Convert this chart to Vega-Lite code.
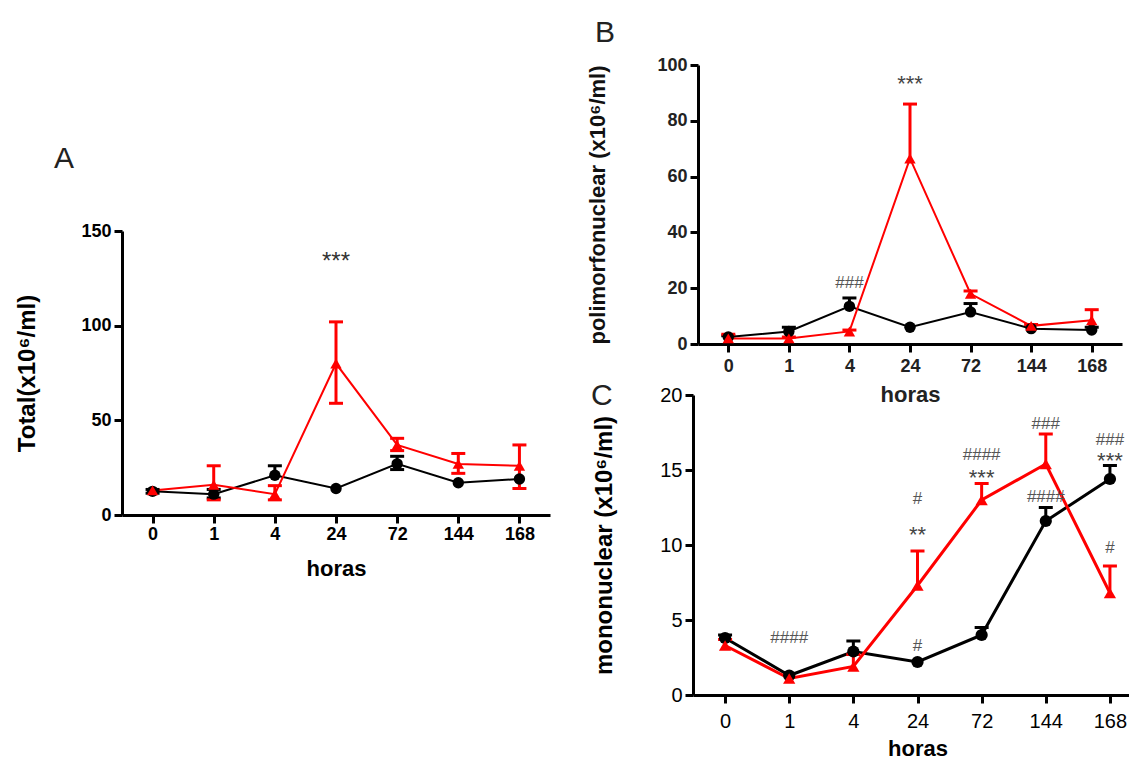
{
  "$schema": "https://vega.github.io/schema/vega-lite/v6.json",
  "background": "white",
  "padding": {"left": 15, "top": 18, "right": 0, "bottom": 0},
  "bounds": "flush",
  "spacing": 143,
  "config": {
    "font": "Liberation Sans",
    "view": {"stroke": null},
    "axis": {"domainColor": "black", "domainWidth": 3, "tickColor": "black", "tickWidth": 3, "tickSize": 8, "grid": false, "labelColor": "black", "titleColor": "black", "labelFont": "Liberation Sans", "titleFont": "Liberation Sans"},
    "title": {"font": "Liberation Sans", "fontSize": 30, "fontWeight": "normal", "color": "#222", "anchor": "start", "frame": "group"}
  },
  "datasets": {
    "s": [
      {"p": "A", "g": "controle", "h": 0, "m": 12.5, "lo": 11.5, "hi": 13.5},
      {"p": "A", "g": "controle", "h": 1, "m": 11, "lo": 9, "hi": 13.5},
      {"p": "A", "g": "controle", "h": 4, "m": 21, "lo": 21, "hi": 26},
      {"p": "A", "g": "controle", "h": 24, "m": 14, "lo": 14, "hi": 14},
      {"p": "A", "g": "controle", "h": 72, "m": 27, "lo": 24, "hi": 31},
      {"p": "A", "g": "controle", "h": 144, "m": 17, "lo": 17, "hi": 17},
      {"p": "A", "g": "controle", "h": 168, "m": 19, "lo": 19, "hi": 19},
      {"p": "A", "g": "tratado", "h": 0, "m": 13, "lo": 13, "hi": 13},
      {"p": "A", "g": "tratado", "h": 1, "m": 16, "lo": 8, "hi": 26},
      {"p": "A", "g": "tratado", "h": 4, "m": 11, "lo": 8, "hi": 15.5},
      {"p": "A", "g": "tratado", "h": 24, "m": 80, "lo": 59, "hi": 102},
      {"p": "A", "g": "tratado", "h": 72, "m": 37, "lo": 34, "hi": 40.5},
      {"p": "A", "g": "tratado", "h": 144, "m": 27, "lo": 22, "hi": 32.5},
      {"p": "A", "g": "tratado", "h": 168, "m": 26, "lo": 14, "hi": 37},
      {"p": "B", "g": "controle", "h": 0, "m": 2.5, "lo": 2.5, "hi": 3},
      {"p": "B", "g": "controle", "h": 1, "m": 4.5, "lo": 4.5, "hi": 6},
      {"p": "B", "g": "controle", "h": 4, "m": 13.5, "lo": 13.5, "hi": 16.5},
      {"p": "B", "g": "controle", "h": 24, "m": 6, "lo": 6, "hi": 6},
      {"p": "B", "g": "controle", "h": 72, "m": 11.5, "lo": 11.5, "hi": 14.5},
      {"p": "B", "g": "controle", "h": 144, "m": 5.5, "lo": 5.5, "hi": 5.5},
      {"p": "B", "g": "controle", "h": 168, "m": 5, "lo": 5, "hi": 6},
      {"p": "B", "g": "tratado", "h": 0, "m": 2, "lo": 2, "hi": 3.5},
      {"p": "B", "g": "tratado", "h": 1, "m": 2, "lo": 2, "hi": 2.5},
      {"p": "B", "g": "tratado", "h": 4, "m": 4.5, "lo": 4.5, "hi": 5},
      {"p": "B", "g": "tratado", "h": 24, "m": 66.5, "lo": 66.5, "hi": 86},
      {"p": "B", "g": "tratado", "h": 72, "m": 18, "lo": 18, "hi": 19},
      {"p": "B", "g": "tratado", "h": 144, "m": 6.5, "lo": 6.5, "hi": 7},
      {"p": "B", "g": "tratado", "h": 168, "m": 8.5, "lo": 8.5, "hi": 12.3},
      {"p": "C", "g": "controle", "h": 0, "m": 3.8, "lo": 3.8, "hi": 4.0},
      {"p": "C", "g": "controle", "h": 1, "m": 1.3, "lo": 1.3, "hi": 1.3},
      {"p": "C", "g": "controle", "h": 4, "m": 2.9, "lo": 2.9, "hi": 3.6},
      {"p": "C", "g": "controle", "h": 24, "m": 2.2, "lo": 2.2, "hi": 2.2},
      {"p": "C", "g": "controle", "h": 72, "m": 4.0, "lo": 4.0, "hi": 4.5},
      {"p": "C", "g": "controle", "h": 144, "m": 11.6, "lo": 11.6, "hi": 12.5},
      {"p": "C", "g": "controle", "h": 168, "m": 14.4, "lo": 14.4, "hi": 15.3},
      {"p": "C", "g": "tratado", "h": 0, "m": 3.3, "lo": 3.3, "hi": 3.7},
      {"p": "C", "g": "tratado", "h": 1, "m": 1.1, "lo": 1.1, "hi": 1.1},
      {"p": "C", "g": "tratado", "h": 4, "m": 1.9, "lo": 1.9, "hi": 2.7},
      {"p": "C", "g": "tratado", "h": 24, "m": 7.3, "lo": 7.3, "hi": 9.6},
      {"p": "C", "g": "tratado", "h": 72, "m": 13.0, "lo": 13.0, "hi": 14.1},
      {"p": "C", "g": "tratado", "h": 144, "m": 15.4, "lo": 15.4, "hi": 17.4},
      {"p": "C", "g": "tratado", "h": 168, "m": 6.8, "lo": 6.8, "hi": 8.6}
    ],
    "n": [
      {"p": "A", "h": 24, "y": 137, "t": "***"},
      {"p": "B", "h": 24, "y": 95.5, "t": "***"},
      {"p": "B", "h": 4, "y": 22, "t": "###"},
      {"p": "C", "h": 1, "y": 3.8, "t": "####"},
      {"p": "C", "h": 24, "y": 3.3, "t": "#"},
      {"p": "C", "h": 24, "y": 11.1, "t": "**"},
      {"p": "C", "h": 24, "y": 13.1, "t": "#"},
      {"p": "C", "h": 72, "y": 16.0, "t": "####"},
      {"p": "C", "h": 72, "y": 14.9, "t": "***"},
      {"p": "C", "h": 144, "y": 18.1, "t": "###"},
      {"p": "C", "h": 144, "y": 13.2, "t": "####"},
      {"p": "C", "h": 168, "y": 17.0, "t": "###"},
      {"p": "C", "h": 168, "y": 16.0, "t": "***"},
      {"p": "C", "h": 168, "y": 9.8, "t": "#"}
    ]
  },
  "hconcat": [
    {
      "width": 428,
      "height": 450,
      "title": {"text": "A", "dx": -68, "offset": -109},
      "encoding": {
        "x": {"field": "h", "type": "ordinal", "scale": {"type": "point", "padding": 0.5},
          "axis": {"title": "horas", "labelAngle": 0, "labelFontSize": 18, "labelFontWeight": "bold", "labelPadding": 2, "titleFontSize": 22, "titleFontWeight": "bold", "titlePadding": 15}}
      },
      "layer": [
        {"data": {"name": "s"}, "transform": [{"filter": "datum.p == 'A'"}],
          "mark": {"type": "line", "strokeWidth": 2},
          "encoding": {
            "y": {"field": "m", "type": "quantitative", "scale": {"domain": [0, 150], "range": [450, 166], "nice": false},
              "axis": {"values": [0, 50, 100, 150], "title": "Total(x10⁶/ml)", "labelFontSize": 18, "labelFontWeight": "bold", "labelPadding": 3, "titleFontSize": 24, "titleFontWeight": "bold", "titlePadding": 41}},
            "color": {"field": "g", "type": "nominal", "scale": {"domain": ["controle", "tratado"], "range": ["#000000", "#ff0000"]}, "legend": null},
            "order": {"field": "h", "type": "quantitative"}
          }},
        {"data": {"name": "s"}, "transform": [{"filter": "datum.p == 'A'"}],
          "mark": {"type": "rule", "strokeWidth": 3},
          "encoding": {
            "y": {"field": "lo", "type": "quantitative", "scale": {"domain": [0, 150], "range": [450, 166], "nice": false},
              "axis": {"values": [0, 50, 100, 150], "title": "Total(x10⁶/ml)", "labelFontSize": 18, "labelFontWeight": "bold", "labelPadding": 3, "titleFontSize": 24, "titleFontWeight": "bold", "titlePadding": 41}},
            "y2": {"field": "hi"},
            "color": {"field": "g", "type": "nominal", "legend": null}
          }},
        {"data": {"name": "s"}, "transform": [{"filter": "datum.p == 'A' && datum.hi > datum.m"}],
          "mark": {"type": "tick", "orient": "horizontal", "size": 14, "thickness": 3, "opacity": 1},
          "encoding": {
            "y": {"field": "hi", "type": "quantitative", "scale": {"domain": [0, 150], "range": [450, 166], "nice": false},
              "axis": {"values": [0, 50, 100, 150], "title": "Total(x10⁶/ml)", "labelFontSize": 18, "labelFontWeight": "bold", "labelPadding": 3, "titleFontSize": 24, "titleFontWeight": "bold", "titlePadding": 41}},
            "color": {"field": "g", "type": "nominal", "legend": null}
          }},
        {"data": {"name": "s"}, "transform": [{"filter": "datum.p == 'A' && datum.lo < datum.m"}],
          "mark": {"type": "tick", "orient": "horizontal", "size": 14, "thickness": 3, "opacity": 1},
          "encoding": {
            "y": {"field": "lo", "type": "quantitative", "scale": {"domain": [0, 150], "range": [450, 166], "nice": false},
              "axis": {"values": [0, 50, 100, 150], "title": "Total(x10⁶/ml)", "labelFontSize": 18, "labelFontWeight": "bold", "labelPadding": 3, "titleFontSize": 24, "titleFontWeight": "bold", "titlePadding": 41}},
            "color": {"field": "g", "type": "nominal", "legend": null}
          }},
        {"data": {"name": "s"}, "transform": [{"filter": "datum.p == 'A'"}],
          "mark": {"type": "point", "filled": true, "size": 130, "opacity": 1},
          "encoding": {
            "y": {"field": "m", "type": "quantitative", "scale": {"domain": [0, 150], "range": [450, 166], "nice": false},
              "axis": {"values": [0, 50, 100, 150], "title": "Total(x10⁶/ml)", "labelFontSize": 18, "labelFontWeight": "bold", "labelPadding": 3, "titleFontSize": 24, "titleFontWeight": "bold", "titlePadding": 41}},
            "color": {"field": "g", "type": "nominal", "legend": null},
            "shape": {"field": "g", "type": "nominal", "scale": {"domain": ["controle", "tratado"], "range": ["circle", "triangle-up"]}, "legend": null}
          }},
        {"data": {"name": "n"}, "transform": [{"filter": "datum.p == 'A'"}],
          "mark": {"type": "text", "fontSize": 24, "color": "#333", "font": "Liberation Sans", "dy": 6},
          "encoding": {
            "y": {"field": "y", "type": "quantitative", "scale": {"domain": [0, 150], "range": [450, 166], "nice": false},
              "axis": {"values": [0, 50, 100, 150], "title": "Total(x10⁶/ml)", "labelFontSize": 18, "labelFontWeight": "bold", "labelPadding": 3, "titleFontSize": 24, "titleFontWeight": "bold", "titlePadding": 41}},
            "text": {"field": "t"}
          }}
      ]
    },
    {
      "bounds": "flush",
      "spacing": 51,
      "vconcat": [
        {
          "width": 429,
          "height": 279,
          "title": {"text": "B", "dx": -98, "offset": 8},
          "encoding": {
            "x": {"field": "h", "type": "ordinal", "scale": {"type": "point", "padding": 0.5, "range": [5, 429]},
              "axis": {"title": "horas", "labelAngle": 0, "labelFontSize": 18, "labelFontWeight": "bold", "labelColor": "#222", "labelPadding": 5, "titleFontSize": 22, "titleFontWeight": "bold", "titleColor": "#222", "titlePadding": 9}}
          },
          "layer": [
            {"data": {"name": "s"}, "transform": [{"filter": "datum.p == 'B'"}],
              "mark": {"type": "line", "strokeWidth": 2},
              "encoding": {
                "y": {"field": "m", "type": "quantitative", "scale": {"domain": [0, 100], "nice": false},
                  "axis": {"offset": -5, "values": [0, 20, 40, 60, 80, 100], "title": "polimorfonuclear (x10⁶/ml)", "labelFontSize": 18, "labelFontWeight": "bold", "labelColor": "#222", "labelPadding": 3, "titleFontSize": 22, "titleFontWeight": "bold", "titleColor": "#111", "titlePadding": 47}},
                "color": {"field": "g", "type": "nominal", "scale": {"domain": ["controle", "tratado"], "range": ["#000000", "#ff0000"]}, "legend": null},
                "order": {"field": "h", "type": "quantitative"}
              }},
            {"data": {"name": "s"}, "transform": [{"filter": "datum.p == 'B'"}],
              "mark": {"type": "rule", "strokeWidth": 3},
              "encoding": {
                "y": {"field": "lo", "type": "quantitative", "scale": {"domain": [0, 100], "nice": false},
                  "axis": {"offset": -5, "values": [0, 20, 40, 60, 80, 100], "title": "polimorfonuclear (x10⁶/ml)", "labelFontSize": 18, "labelFontWeight": "bold", "labelColor": "#222", "labelPadding": 3, "titleFontSize": 22, "titleFontWeight": "bold", "titleColor": "#111", "titlePadding": 47}},
                "y2": {"field": "hi"},
                "color": {"field": "g", "type": "nominal", "legend": null}
              }},
            {"data": {"name": "s"}, "transform": [{"filter": "datum.p == 'B' && datum.hi > datum.m"}],
              "mark": {"type": "tick", "orient": "horizontal", "size": 14, "thickness": 3, "opacity": 1},
              "encoding": {
                "y": {"field": "hi", "type": "quantitative", "scale": {"domain": [0, 100], "nice": false},
                  "axis": {"offset": -5, "values": [0, 20, 40, 60, 80, 100], "title": "polimorfonuclear (x10⁶/ml)", "labelFontSize": 18, "labelFontWeight": "bold", "labelColor": "#222", "labelPadding": 3, "titleFontSize": 22, "titleFontWeight": "bold", "titleColor": "#111", "titlePadding": 47}},
                "color": {"field": "g", "type": "nominal", "legend": null}
              }},
            {"data": {"name": "s"}, "transform": [{"filter": "datum.p == 'B'"}],
              "mark": {"type": "point", "filled": true, "size": 130, "opacity": 1},
              "encoding": {
                "y": {"field": "m", "type": "quantitative", "scale": {"domain": [0, 100], "nice": false},
                  "axis": {"offset": -5, "values": [0, 20, 40, 60, 80, 100], "title": "polimorfonuclear (x10⁶/ml)", "labelFontSize": 18, "labelFontWeight": "bold", "labelColor": "#222", "labelPadding": 3, "titleFontSize": 22, "titleFontWeight": "bold", "titleColor": "#111", "titlePadding": 47}},
                "color": {"field": "g", "type": "nominal", "legend": null},
                "shape": {"field": "g", "type": "nominal", "scale": {"domain": ["controle", "tratado"], "range": ["circle", "triangle-up"]}, "legend": null}
              }},
            {"data": {"name": "n"}, "transform": [{"filter": "datum.p == 'B' && datum.t == '***'"}],
              "mark": {"type": "text", "fontSize": 22, "color": "#444", "font": "Liberation Sans", "dy": 6},
              "encoding": {
                "y": {"field": "y", "type": "quantitative", "scale": {"domain": [0, 100], "nice": false},
                  "axis": {"offset": -5, "values": [0, 20, 40, 60, 80, 100], "title": "polimorfonuclear (x10⁶/ml)", "labelFontSize": 18, "labelFontWeight": "bold", "labelColor": "#222", "labelPadding": 3, "titleFontSize": 22, "titleFontWeight": "bold", "titleColor": "#111", "titlePadding": 47}},
                "text": {"field": "t"}
              }},
            {"data": {"name": "n"}, "transform": [{"filter": "datum.p == 'B' && datum.t != '***'"}],
              "mark": {"type": "text", "fontSize": 17, "color": "#555", "font": "Liberation Sans"},
              "encoding": {
                "y": {"field": "y", "type": "quantitative", "scale": {"domain": [0, 100], "nice": false},
                  "axis": {"offset": -5, "values": [0, 20, 40, 60, 80, 100], "title": "polimorfonuclear (x10⁶/ml)", "labelFontSize": 18, "labelFontWeight": "bold", "labelColor": "#222", "labelPadding": 3, "titleFontSize": 22, "titleFontWeight": "bold", "titleColor": "#111", "titlePadding": 47}},
                "text": {"field": "t"}
              }}
          ]
        },
        {
          "width": 449,
          "height": 300,
          "title": {"text": "C", "dx": -102, "offset": -26},
          "encoding": {
            "x": {"field": "h", "type": "ordinal", "scale": {"type": "point", "padding": 0.5},
              "axis": {"title": "horas", "labelAngle": 0, "labelFontSize": 20, "labelPadding": 8, "titleFontSize": 22, "titleFontWeight": "bold", "titlePadding": 7}}
          },
          "layer": [
            {"data": {"name": "s"}, "transform": [{"filter": "datum.p == 'C'"}],
              "mark": {"type": "line", "strokeWidth": 3},
              "encoding": {
                "y": {"field": "m", "type": "quantitative", "scale": {"domain": [0, 20], "nice": false},
                  "axis": {"values": [0, 5, 10, 15, 20], "title": "mononuclear (x10⁶/ml)", "labelFontSize": 20, "labelPadding": 3, "titleFontSize": 24, "titleFontWeight": "bold", "titlePadding": 43}},
                "color": {"field": "g", "type": "nominal", "scale": {"domain": ["controle", "tratado"], "range": ["#000000", "#ff0000"]}, "legend": null},
                "order": {"field": "h", "type": "quantitative"}
              }},
            {"data": {"name": "s"}, "transform": [{"filter": "datum.p == 'C'"}],
              "mark": {"type": "rule", "strokeWidth": 3},
              "encoding": {
                "y": {"field": "lo", "type": "quantitative", "scale": {"domain": [0, 20], "nice": false},
                  "axis": {"values": [0, 5, 10, 15, 20], "title": "mononuclear (x10⁶/ml)", "labelFontSize": 20, "labelPadding": 3, "titleFontSize": 24, "titleFontWeight": "bold", "titlePadding": 43}},
                "y2": {"field": "hi"},
                "color": {"field": "g", "type": "nominal", "legend": null}
              }},
            {"data": {"name": "s"}, "transform": [{"filter": "datum.p == 'C' && datum.hi > datum.m"}],
              "mark": {"type": "tick", "orient": "horizontal", "size": 14, "thickness": 3, "opacity": 1},
              "encoding": {
                "y": {"field": "hi", "type": "quantitative", "scale": {"domain": [0, 20], "nice": false},
                  "axis": {"values": [0, 5, 10, 15, 20], "title": "mononuclear (x10⁶/ml)", "labelFontSize": 20, "labelPadding": 3, "titleFontSize": 24, "titleFontWeight": "bold", "titlePadding": 43}},
                "color": {"field": "g", "type": "nominal", "legend": null}
              }},
            {"data": {"name": "s"}, "transform": [{"filter": "datum.p == 'C'"}],
              "mark": {"type": "point", "filled": true, "size": 150, "opacity": 1},
              "encoding": {
                "y": {"field": "m", "type": "quantitative", "scale": {"domain": [0, 20], "nice": false},
                  "axis": {"values": [0, 5, 10, 15, 20], "title": "mononuclear (x10⁶/ml)", "labelFontSize": 20, "labelPadding": 3, "titleFontSize": 24, "titleFontWeight": "bold", "titlePadding": 43}},
                "color": {"field": "g", "type": "nominal", "legend": null},
                "shape": {"field": "g", "type": "nominal", "scale": {"domain": ["controle", "tratado"], "range": ["circle", "triangle-up"]}, "legend": null}
              }},
            {"data": {"name": "n"}, "transform": [{"filter": "datum.p == 'C' && indexof(datum.t, '*') >= 0"}],
              "mark": {"type": "text", "fontSize": 22, "color": "#444", "font": "Liberation Sans", "dy": 6},
              "encoding": {
                "y": {"field": "y", "type": "quantitative", "scale": {"domain": [0, 20], "nice": false},
                  "axis": {"values": [0, 5, 10, 15, 20], "title": "mononuclear (x10⁶/ml)", "labelFontSize": 20, "labelPadding": 3, "titleFontSize": 24, "titleFontWeight": "bold", "titlePadding": 43}},
                "text": {"field": "t"}
              }},
            {"data": {"name": "n"}, "transform": [{"filter": "datum.p == 'C' && indexof(datum.t, '#') >= 0"}],
              "mark": {"type": "text", "fontSize": 17, "color": "#555", "font": "Liberation Sans"},
              "encoding": {
                "y": {"field": "y", "type": "quantitative", "scale": {"domain": [0, 20], "nice": false},
                  "axis": {"values": [0, 5, 10, 15, 20], "title": "mononuclear (x10⁶/ml)", "labelFontSize": 20, "labelPadding": 3, "titleFontSize": 24, "titleFontWeight": "bold", "titlePadding": 43}},
                "text": {"field": "t"}
              }}
          ]
        }
      ]
    }
  ]
}
